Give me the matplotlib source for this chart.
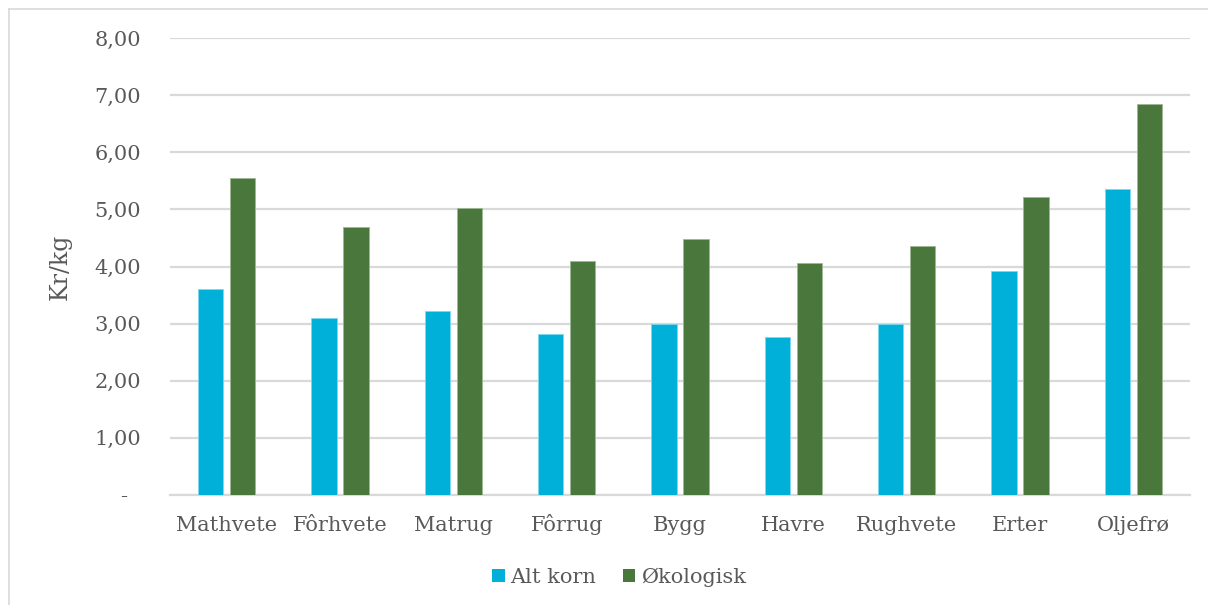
import matplotlib
matplotlib.use("Agg")
import matplotlib.pyplot as plt
from matplotlib.lines import Line2D
from matplotlib.patches import Patch
import numpy as np

categories = ["Mathvete", "Fôrhvete", "Matrug", "Fôrrug", "Bygg", "Havre", "Rughvete", "Erter", "Oljefrø"]
alt_korn = [3.61, 3.09, 3.22, 2.81, 2.99, 2.77, 2.99, 3.92, 5.35]
okologisk = [5.55, 4.69, 5.02, 4.10, 4.48, 4.07, 4.36, 5.21, 6.84]
series_names = ["Alt korn", "Økologisk"]
yticks = [0, 1, 2, 3, 4, 5, 6, 7, 8]
ytick_labels = ["-\u00a0\u00a0", "1,00", "2,00", "3,00", "4,00", "5,00", "6,00", "7,00", "8,00"]

blue = "#00B0D8"
green = "#4A773C"
text_col = "#595959"
grid_col = "#D9D9D9"

plt.rcParams['font.family'] = ['DejaVu Serif']

fig = plt.figure(figsize=(12.08, 6.05), dpi=100)
ax = fig.add_axes([170/1208, 110/605, 1020/1208, 457/605])

x = np.arange(len(categories))
w = 0.225
gap = 0.058
off = (w + gap) / 2
ax.bar(x - off, alt_korn, width=w, color=blue, edgecolor="#7FD7EB", linewidth=0.6, zorder=3, label=series_names[0])
ax.bar(x + off, okologisk, width=w, color=green, edgecolor="#9DB895", linewidth=0.6, zorder=3, label=series_names[1])

ax.set_xlim(-0.5, len(categories) - 0.5)
ax.set_ylim(0, 8)
ax.set_yticks(yticks)
ax.set_yticklabels(ytick_labels)
ax.set_xticks(x)
ax.set_xticklabels(categories)
ax.yaxis.grid(True, color=grid_col, linewidth=1.6, zorder=0)
ax.set_axisbelow(True)
for s in ["top", "right", "left"]:
    ax.spines[s].set_visible(False)
ax.spines["bottom"].set_color(grid_col)
ax.spines["bottom"].set_linewidth(1.6)
ax.tick_params(axis="both", length=0, labelcolor=text_col, labelsize=15)
ax.tick_params(axis="y", pad=21)
ax.tick_params(axis="x", pad=26)
for lab in ax.get_xticklabels():
    lab.set_verticalalignment("baseline")
ax.set_ylabel("Kr/kg", color=text_col, fontsize=17, labelpad=16)

handles = [Patch(facecolor=blue, edgecolor="none"), Patch(facecolor=green, edgecolor="none")]
fig.legend(handles, series_names, loc="center", bbox_to_anchor=(619/1208, 1 - 577/605),
           ncol=2, frameon=False, fontsize=15, handlelength=0.6, handleheight=0.6,
           handletextpad=0.25, columnspacing=1.3, labelcolor=text_col)

fig.add_artist(Line2D([9/1208, 1.0], [1 - 9/605, 1 - 9/605], color=grid_col, linewidth=1.2))
fig.add_artist(Line2D([9/1208, 9/1208], [0, 1 - 9/605], color=grid_col, linewidth=1.2))

fig.savefig("out.png", dpi=100)
